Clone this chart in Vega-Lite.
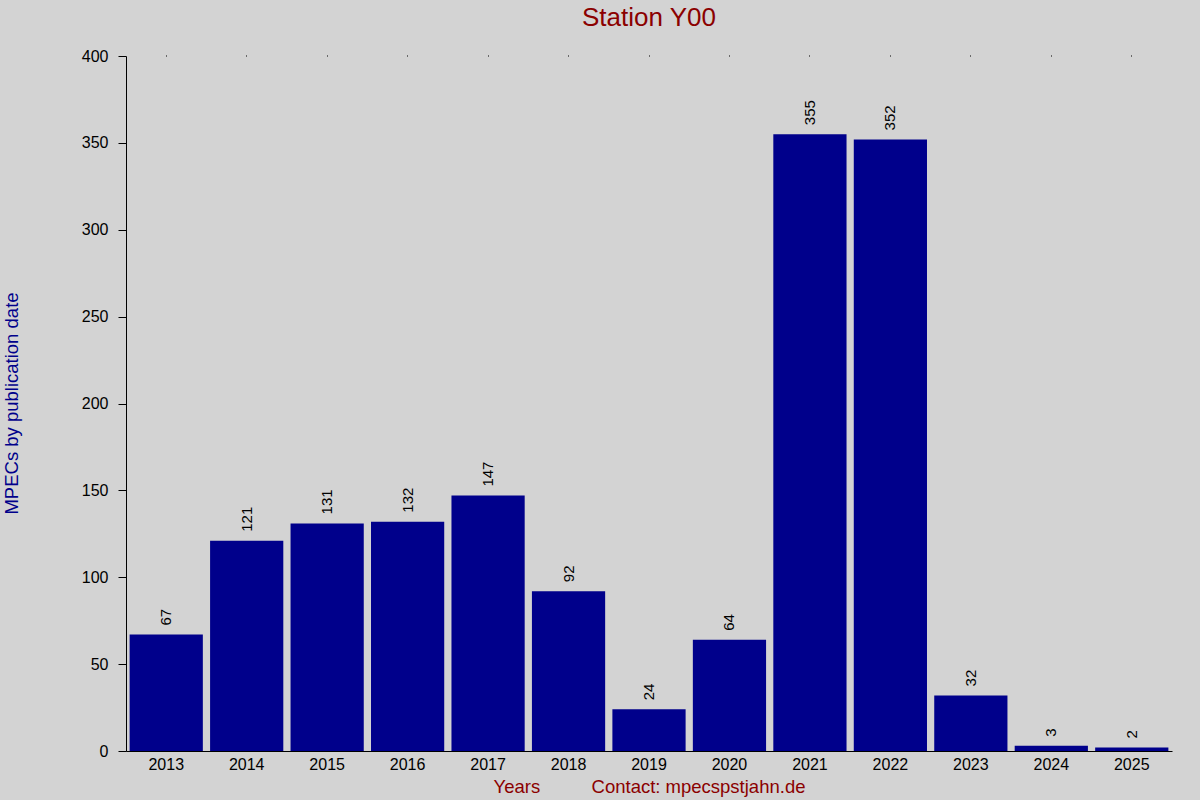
{
  "$schema": "https://vega.github.io/schema/vega-lite/v6.json",
  "autosize": "none",
  "width": 1046,
  "height": 695,
  "padding": {"left": 126, "top": 56, "right": 28, "bottom": 49},
  "background": "#d3d3d3",
  "config": {
    "view": {"stroke": null},
    "font": "Liberation Sans",
    "axis": {"grid": false, "domainColor": "#000000", "tickColor": "#000000", "labelColor": "#000000"}
  },
  "title": {
    "text": "Station Y00",
    "color": "#8b0000",
    "fontSize": 26,
    "fontWeight": "normal",
    "anchor": "middle",
    "offset": 17
  },
  "data": {
    "values": [
      {"year": "2013", "mpecs": 67},
      {"year": "2014", "mpecs": 121},
      {"year": "2015", "mpecs": 131},
      {"year": "2016", "mpecs": 132},
      {"year": "2017", "mpecs": 147},
      {"year": "2018", "mpecs": 92},
      {"year": "2019", "mpecs": 24},
      {"year": "2020", "mpecs": 64},
      {"year": "2021", "mpecs": 355},
      {"year": "2022", "mpecs": 352},
      {"year": "2023", "mpecs": 32},
      {"year": "2024", "mpecs": 3},
      {"year": "2025", "mpecs": 2}
    ]
  },
  "layer": [
    {
      "mark": {"type": "bar", "color": "#00008b"},
      "encoding": {
        "x": {
          "field": "year",
          "type": "ordinal",
          "scale": {"paddingInner": 0.09, "paddingOuter": 0.045},
          "axis": {
            "orient": "bottom",
            "labelAngle": 0,
            "labelFontSize": 16,
            "labelPadding": 5,
            "ticks": false,
            "title": "Years\u00a0\u00a0\u00a0\u00a0\u00a0\u00a0\u00a0\u00a0\u00a0\u00a0Contact: mpecspstjahn.de",
            "titleColor": "#8b0000",
            "titleFontSize": 18.5,
            "titleFontWeight": "normal",
            "titleBaseline": "middle",
            "titleY": 35
          }
        },
        "y": {
          "field": "mpecs",
          "type": "quantitative",
          "scale": {"domain": [0, 400], "nice": false},
          "axis": {
            "values": [0, 50, 100, 150, 200, 250, 300, 350, 400],
            "labelFontSize": 16,
            "labelPadding": 10,
            "tickSize": 8,
            "title": "MPECs by publication date",
            "titleColor": "#00008b",
            "titleFontSize": 18.5,
            "titleFontWeight": "normal",
            "titleAngle": -90,
            "titleBaseline": "middle",
            "titleAlign": "center",
            "titleX": -115,
            "titleY": 347
          }
        }
      }
    },
    {
      "mark": {"type": "text", "angle": -90, "align": "left", "baseline": "middle", "dx": 9, "fontSize": 15, "color": "#000000"},
      "encoding": {
        "x": {
          "field": "year",
          "type": "ordinal",
          "axis": {"orient": "top", "labels": false, "domain": false, "ticks": true, "tickSize": 1, "title": null}
        },
        "y": {"field": "mpecs", "type": "quantitative"},
        "text": {"field": "mpecs", "type": "quantitative"}
      }
    }
  ],
  "resolve": {"axis": {"x": "independent"}}
}
